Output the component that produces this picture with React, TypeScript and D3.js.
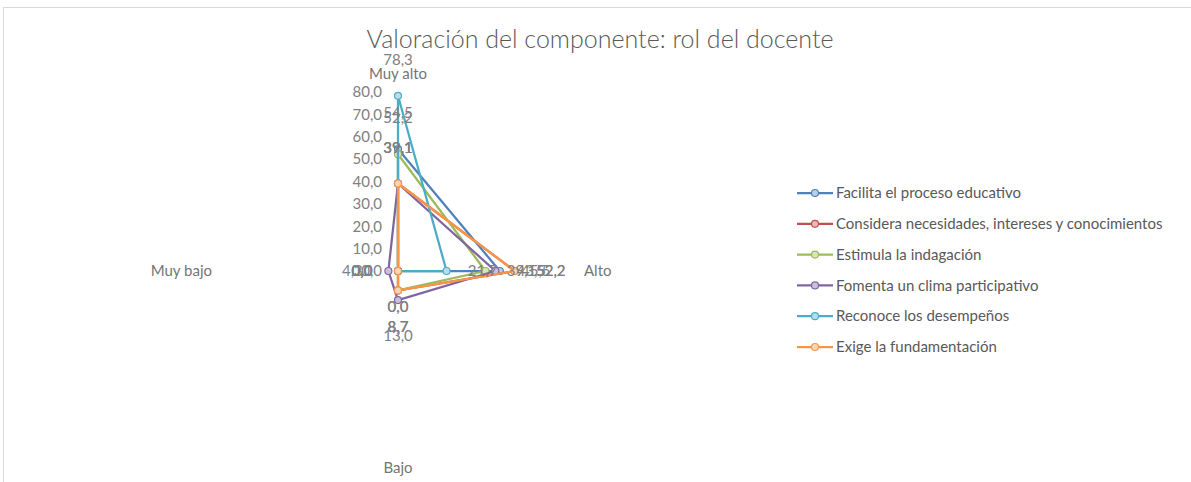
import React, { useEffect, useRef } from "react";
import * as d3 from "d3";

const axes = ["Muy alto", "Alto", "Bajo", "Muy bajo"];
const seriesNames = [
  "Facilita el proceso educativo",
  "Considera necesidades, intereses y conocimientos",
  "Estimula la indagación",
  "Fomenta un clima participativo",
  "Reconoce los desempeños",
  "Exige la fundamentación",
];
const facilita = [54.5, 45.5, 0, 0];
const considera = [39.1, 52.2, 8.7, 0];
const estimula = [52.2, 39.1, 8.7, 0];
const fomenta = [39.1, 43.5, 13.0, 4.3];
const reconoce = [78.3, 21.7, 0, 0];
const exige = [39.1, 52.2, 8.7, 0];
const seriesValues = [facilita, considera, estimula, fomenta, reconoce, exige];
const colors = ["#4F81BD", "#C0504D", "#9BBB59", "#8064A2", "#4BACC6", "#F79646"];
const ticks = [0, 10, 20, 30, 40, 50, 60, 70, 80];

const fmt = (v: number) => v.toFixed(1).replace(".", ",");

const App = () => {
  const chartRef = useRef<SVGSVGElement>(null);

  useEffect(() => {
    const svg = d3.select(chartRef.current);
    svg.selectAll("*").remove();

    const width = 1191;
    const height = 482;
    const cx = 398;
    const cy = 271;
    const font = "Lato, 'Open Sans', sans-serif";

    svg.attr("width", width).attr("height", height);

    // chart border
    svg.append("rect")
      .attr("x", 3.5).attr("y", 7.5)
      .attr("width", 1300).attr("height", 600)
      .attr("fill", "white").attr("stroke", "#d9d9d9");

    // title
    svg.append("text")
      .attr("x", 600).attr("y", 48)
      .attr("text-anchor", "middle")
      .attr("font-family", font).attr("font-weight", 300)
      .attr("font-size", 25).attr("fill", "#595959")
      .text("Valoración del componente: rol del docente");

    const r = d3.scaleLinear().domain([0, 80]).range([0, 179]);
    const angle = d3.scalePoint<string>().domain(axes).range([0, 2 * Math.PI * 3 / 4]);
    const pos = (cat: string, rad: number): [number, number] => {
      const a = angle(cat)!;
      return [cx + rad * Math.sin(a), cy - rad * Math.cos(a)];
    };

    // radial tick labels
    svg.append("g")
      .selectAll("text")
      .data(ticks)
      .join("text")
      .attr("x", cx - 16)
      .attr("y", (d) => cy - r(d))
      .attr("dy", "0.35em")
      .attr("text-anchor", "end")
      .attr("font-family", font).attr("font-size", 15)
      .attr("fill", "#808080")
      .text((d) => fmt(d));

    // category labels
    const catOffsets = [197, 186, 197, 186];
    svg.append("g")
      .selectAll("text")
      .data(axes)
      .join("text")
      .attr("x", (d, i) => pos(d, catOffsets[i])[0])
      .attr("y", (d, i) => pos(d, catOffsets[i])[1])
      .attr("dy", "0.35em")
      .attr("text-anchor", (d, i) => (i === 1 ? "start" : i === 3 ? "end" : "middle"))
      .attr("font-family", font).attr("font-size", 15)
      .attr("fill", "#757575")
      .text((d) => d);

    const line = d3.line<[number, number]>().curve(d3.curveLinearClosed);

    // series
    seriesValues.forEach((vals, s) => {
      const pts = vals.map((v, i) => pos(axes[i], r(v)));
      const g = svg.append("g");
      g.append("path")
        .attr("d", line(pts))
        .attr("fill", "none")
        .attr("stroke", colors[s])
        .attr("stroke-width", 2.25)
        .attr("stroke-linejoin", "round");
      g.selectAll("circle")
        .data(pts)
        .join("circle")
        .attr("cx", (d) => d[0]).attr("cy", (d) => d[1])
        .attr("r", 3.5)
        .attr("fill", d3.interpolateRgb(colors[s], "white")(0.6))
        .attr("stroke", colors[s]).attr("stroke-width", 1.2);
    });

    // data labels
    seriesValues.forEach((vals) => {
      svg.append("g")
        .selectAll("text")
        .data(vals)
        .join("text")
        .attr("x", (d, i) => pos(axes[i], r(d) + 36)[0])
        .attr("y", (d, i) => pos(axes[i], r(d) + 36)[1])
        .attr("dy", "0.35em")
        .attr("text-anchor", "middle")
        .attr("font-family", font).attr("font-size", 15)
        .attr("fill", "#808080")
        .text((d) => fmt(d));
    });

    // legend
    const legend = svg.append("g").attr("transform", "translate(797,193)");
    const rows = legend.selectAll("g")
      .data(seriesNames)
      .join("g")
      .attr("transform", (d, i) => `translate(0,${i * 30.8})`);
    rows.append("line")
      .attr("x1", 0).attr("x2", 36)
      .attr("stroke", (d, i) => colors[i]).attr("stroke-width", 2.25);
    rows.append("circle")
      .attr("cx", 18).attr("r", 3.5)
      .attr("fill", (d, i) => d3.interpolateRgb(colors[i], "white")(0.6))
      .attr("stroke", (d, i) => colors[i]).attr("stroke-width", 1.2);
    rows.append("text")
      .attr("x", 39).attr("dy", "0.35em")
      .attr("font-family", font).attr("font-size", 15)
      .attr("fill", "#595959")
      .text((d) => d);
  }, []);

  return (
    <svg ref={chartRef} style={{ position: "absolute", left: 0, top: 0 }}></svg>
  );
};

export default App;
